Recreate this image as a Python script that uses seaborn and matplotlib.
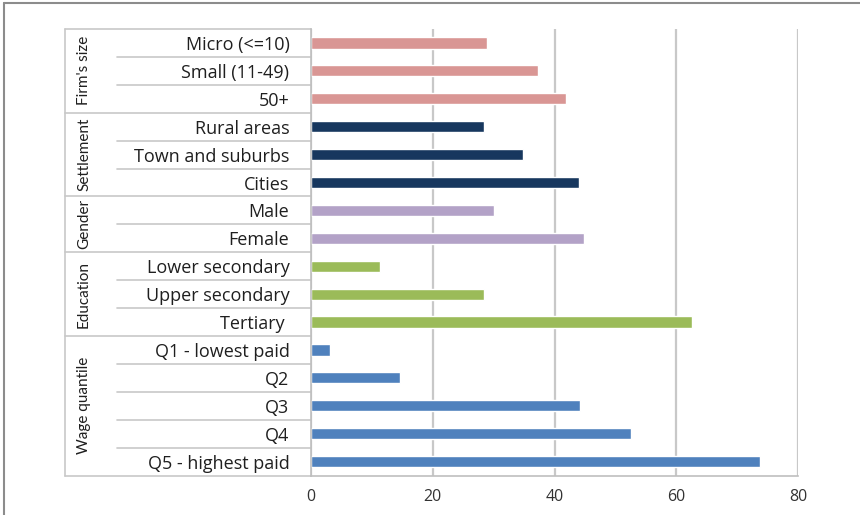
import matplotlib
matplotlib.use("Agg")
import matplotlib.pyplot as plt
from matplotlib.lines import Line2D
import matplotlib.transforms as mtransforms
import pandas as pd
import seaborn as sns

# Share of employees by characteristic (%)
categories = [
    "Micro (<=10)", "Small (11-49)", "50+",
    "Rural areas", "Town and suburbs", "Cities",
    "Male", "Female",
    "Lower secondary", "Upper secondary", "Tertiary ",
    "Q1 - lowest paid", "Q2", "Q3", "Q4", "Q5 - highest paid",
]
values = [
    28.9, 37.3, 41.9,
    28.4, 34.8, 44.0,
    30.0, 44.8,
    11.4, 28.5, 62.6,
    3.1, 14.6, 44.2, 52.5, 73.8,
]
group_names = ["Firm's size", "Settlement", "Gender", "Education", "Wage quantile"]
group_sizes = [3, 3, 2, 3, 5]
group_colors = ["#D99694", "#17375E", "#B3A2C7", "#9BBB59", "#4F81BD"]
x_ticks = [0, 20, 40, 60, 80]

groups = [g for g, n in zip(group_names, group_sizes) for _ in range(n)]
df = pd.DataFrame({"category": categories, "value": values, "group": groups})

sns.set_theme(style="white")
plt.rcParams["font.family"] = ["Open Sans", "DejaVu Sans"]

fig = plt.figure(figsize=(8.6, 5.15), dpi=100)
ax = fig.add_axes([311 / 860, 1 - 475.6 / 515, 487 / 860, (475.6 - 29) / 515])

sns.barplot(
    data=df, x="value", y="category", hue="group", orient="h",
    palette=dict(zip(group_names, group_colors)), hue_order=group_names,
    dodge=False, width=0.4, saturation=1, legend=False, ax=ax,
)

ax.set_xlim(0, 80)
ax.set_ylim(len(categories) - 0.5, -0.5)
ax.set_xticks(x_ticks)
ax.set_xticklabels([str(t) for t in x_ticks])
ax.set_xlabel("")
ax.set_ylabel("")
ax.xaxis.grid(True, color="#C8C8C8", linewidth=1.6)
ax.yaxis.grid(False)
ax.set_axisbelow(True)

for side in ["top", "right"]:
    ax.spines[side].set_visible(False)
for side in ["left", "bottom"]:
    ax.spines[side].set_color("#BFBFBF")
    ax.spines[side].set_linewidth(1.2)

ax.tick_params(axis="x", length=5, width=1.2, color="#BFBFBF", pad=5,
               labelsize=11.5, labelcolor="#333333")
ax.tick_params(axis="y", length=0, pad=15.5, labelsize=13, labelcolor="#1F1F1F")

# Row separators to the left of the axis: short within a group, long between groups
trans = mtransforms.blended_transform_factory(ax.transAxes, ax.transData)
x_inner = (117 - 311) / 487
x_outer = (65 - 311) / 487
boundaries = set()
pos = 0
for n in group_sizes:
    boundaries.add(pos)
    pos += n
boundaries.add(pos)
for b in range(len(categories) + 1):
    x0 = x_outer if b in boundaries else x_inner
    ax.add_line(Line2D([x0, 0], [b - 0.5, b - 0.5], transform=trans,
                       color="#C8C8C8", linewidth=1.2, clip_on=False))
ax.add_line(Line2D([x_outer, x_outer], [-0.5, len(categories) - 0.5],
                   transform=trans, color="#C8C8C8", linewidth=1.2, clip_on=False))

# Rotated group names
x_group = (84 - 311) / 487
pos = 0
for name, n in zip(group_names, group_sizes):
    center = pos + (n - 1) / 2
    ax.text(x_group, center, name, transform=trans, rotation=90,
            ha="center", va="center", fontsize=11, color="#1F1F1F",
            family=["Lato", "DejaVu Sans"])
    pos += n

# Image frame on the left and top edges
fig.add_artist(Line2D([4 / 860, 4 / 860], [0, 1 - 3 / 515],
                      transform=fig.transFigure, color="#8C8C8C", linewidth=1.5))
fig.add_artist(Line2D([4 / 860, 1], [1 - 3 / 515, 1 - 3 / 515],
                      transform=fig.transFigure, color="#8C8C8C", linewidth=1.5))

fig.savefig("out.png", dpi=100)
